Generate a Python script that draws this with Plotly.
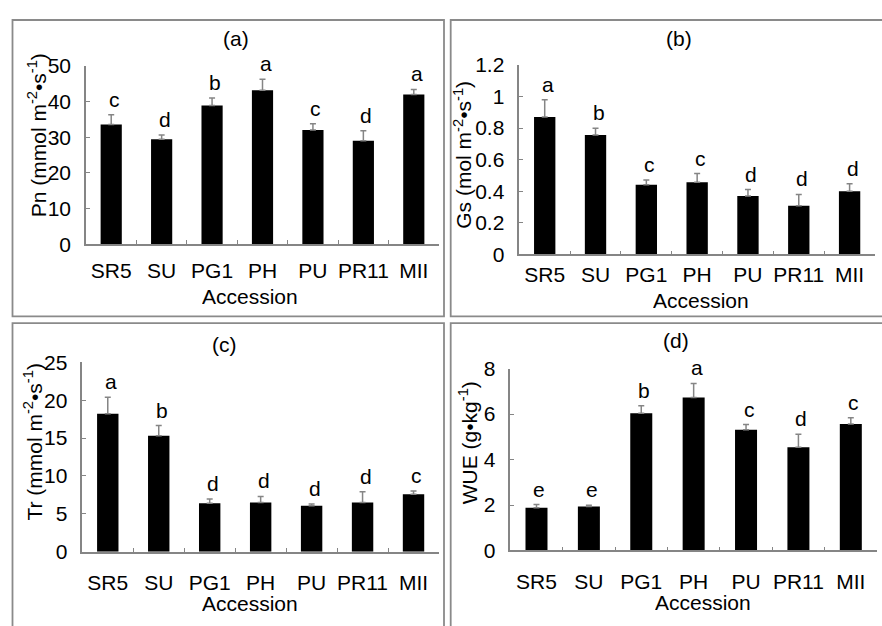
import plotly.graph_objects as go

# ---------------- data ----------------
accessions = ["SR5", "SU", "PG1", "PH", "PU", "PR11", "MII"]

pn_values = [33.6, 29.4, 38.9, 43.2, 32.0, 29.0, 42.0]
pn_errors = [2.7, 1.2, 2.1, 3.1, 1.8, 2.8, 1.4]
pn_letters = ["c", "d", "b", "a", "c", "d", "a"]

gs_values = [0.870, 0.756, 0.441, 0.457, 0.370, 0.309, 0.400]
gs_errors = [0.110, 0.044, 0.031, 0.055, 0.041, 0.071, 0.048]
gs_letters = ["a", "b", "c", "c", "d", "d", "d"]

tr_values = [18.2, 15.3, 6.4, 6.5, 6.06, 6.5, 7.6]
tr_errors = [2.2, 1.35, 0.55, 0.8, 0.25, 1.4, 0.4]
tr_letters = ["a", "b", "d", "d", "d", "d", "c"]

wue_values = [1.88, 1.94, 6.04, 6.73, 5.31, 4.54, 5.57]
wue_errors = [0.14, 0.05, 0.33, 0.62, 0.23, 0.58, 0.27]
wue_letters = ["e", "e", "b", "a", "c", "d", "c"]

panel_titles = ["(a)", "(b)", "(c)", "(d)"]
y_titles = [
    "Pn (mmol m<sup>-2</sup>•s<sup>-1</sup>)",
    "Gs (mol m<sup>-2</sup>•s<sup>-1</sup>)",
    "Tr (mmol m<sup>-2</sup>•s<sup>-1</sup>)",
    "WUE (g•kg<sup>-1</sup>)",
]
x_title = "Accession"
y_ranges = [[0, 50], [0, 1.2], [0, 25], [0, 8]]
y_dticks = [10, 0.2, 5, 2]

# ---------------- layout helpers ----------------
W, H = 882, 626
FONT = "Liberation Sans, Arial, sans-serif"
GRAY = "#858585"


def px(x):
    return x / W


def py(y):
    return 1 - y / H


# plot areas in pixels: (x_left, x_right, y_bottom, y_top)
areas = [
    (86, 439, 241, 56),
    (519.3, 875, 251.7, 55),
    (82.3, 439, 560.3, 363.7),
    (510.3, 877, 559, 370.3),
]
# panel frames in pixels: (x0, y0, x1, y1)
frames = [
    (12.5, 8.3, 444, 316),
    (450.7, 8.3, 895, 316),
    (12.5, 323, 444, 640),
    (450.7, 323, 895, 640),
]
title_pos = [(236, 27), (679, 27), (224, 344.7), (676, 341)]
ytitle_pos = [(37, 128), (462.7, 148.5), (33, 446), (467.7, 447)]
xtitle_pos = [(250, 294.5), (701, 299), (250, 614), (702.7, 613)]
xlabel_standoff = [7, 1, 11, 12]

series = [
    (pn_values, pn_errors, pn_letters),
    (gs_values, gs_errors, gs_letters),
    (tr_values, tr_errors, tr_letters),
    (wue_values, wue_errors, wue_letters),
]

fig = go.Figure()
annotations = []
shapes = []
layout_axes = {}

for i, (vals, errs, letters) in enumerate(series):
    n = i + 1
    xa = "x" if n == 1 else f"x{n}"
    ya = "y" if n == 1 else f"y{n}"
    fig.add_trace(
        go.Bar(
            x=accessions,
            y=vals,
            xaxis=xa,
            yaxis=ya,
            width=0.42,
            marker=dict(color="black", line=dict(width=0)),
            error_y=dict(
                type="data",
                symmetric=False,
                array=errs,
                arrayminus=[0] * len(errs),
                color=GRAY,
                thickness=1.5,
                width=3,
            ),
            showlegend=False,
        )
    )
    for cat, v, e, lt in zip(accessions, vals, errs, letters):
        annotations.append(
            dict(
                x=cat, y=v + e, xref=xa, yref=ya, text=lt, showarrow=False,
                yanchor="bottom", yshift=2, xshift=3,
                font=dict(family=FONT, size=21, color="black"),
            )
        )
    xl, xr, yb, yt = areas[i]
    axis_common = dict(
        showline=True, linecolor=GRAY, linewidth=1.5,
        ticks="inside", tickcolor=GRAY, tickwidth=1.2, ticklen=4,
        showgrid=False, zeroline=False, tickangle=0,
        tickfont=dict(family=FONT, size=21, color="black"),
    )
    layout_axes["xaxis" if n == 1 else f"xaxis{n}"] = dict(
        domain=[px(xl), px(xr)], anchor=ya, type="category",
        tickson="boundaries", range=[-0.5, 6.5],
        ticklabelstandoff=xlabel_standoff[i],
        **axis_common,
    )
    layout_axes["yaxis" if n == 1 else f"yaxis{n}"] = dict(
        domain=[py(yb), py(yt)], anchor=xa, range=y_ranges[i],
        dtick=y_dticks[i], tick0=0, ticklabelstandoff=9,
        **axis_common,
    )
    x0, y0, x1, y1 = frames[i]
    shapes.append(
        dict(type="rect", xref="paper", yref="paper",
             x0=px(x0), x1=px(x1), y0=py(y1), y1=py(y0),
             line=dict(color="#8a8a8a", width=1.8), fillcolor="rgba(0,0,0,0)",
             layer="below")
    )
    tx, ty = title_pos[i]
    annotations.append(dict(x=px(tx), y=py(ty), xref="paper", yref="paper",
                            text=panel_titles[i], showarrow=False,
                            xanchor="center", yanchor="middle",
                            font=dict(family=FONT, size=21, color="black")))
    ax_, ay_ = ytitle_pos[i]
    annotations.append(dict(x=px(ax_), y=py(ay_), xref="paper", yref="paper",
                            text=y_titles[i], showarrow=False, textangle=-90,
                            xanchor="center", yanchor="middle",
                            font=dict(family=FONT, size=21, color="black")))
    bx, by = xtitle_pos[i]
    annotations.append(dict(x=px(bx), y=py(by), xref="paper", yref="paper",
                            text=x_title, showarrow=False, height=18,
                            borderpad=0, valign="middle",
                            xanchor="center", yanchor="middle",
                            font=dict(family=FONT, size=21, color="black")))

fig.update_layout(
    width=W, height=H,
    margin=dict(l=0, r=0, t=0, b=0),
    paper_bgcolor="white", plot_bgcolor="rgba(0,0,0,0)",
    bargap=0.58,
    annotations=annotations,
    shapes=shapes,
    **layout_axes,
)

fig.write_html("out.html")
